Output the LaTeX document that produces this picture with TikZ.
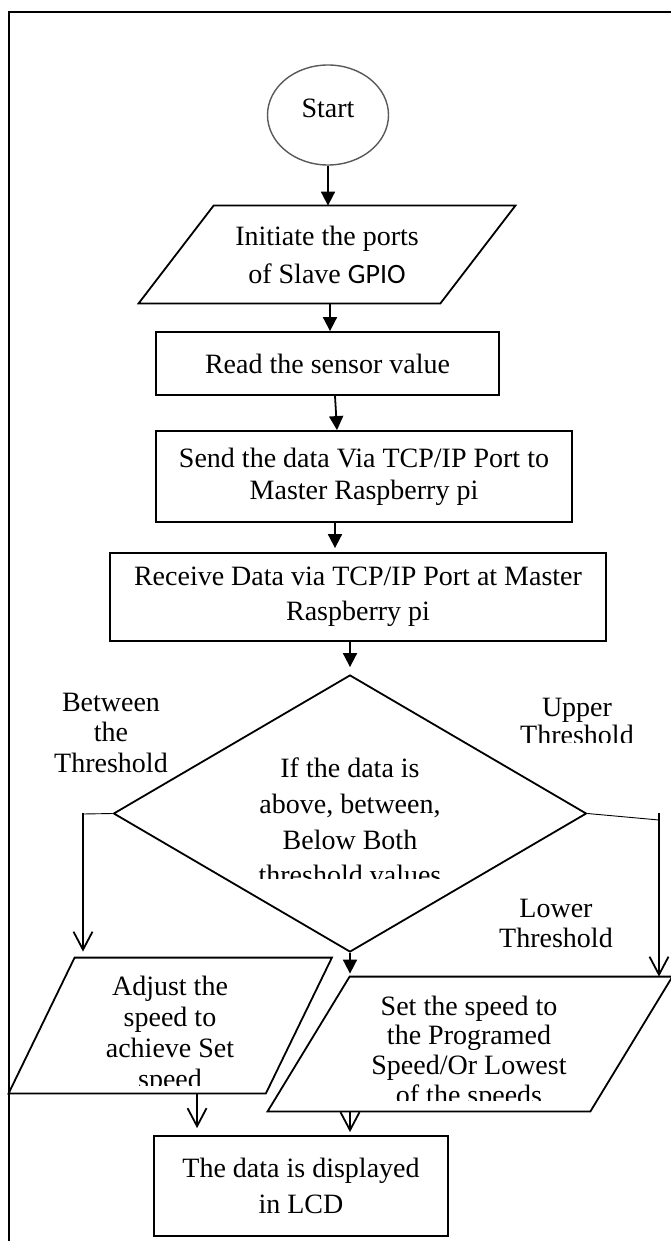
\documentclass[tikz,border=0pt]{standalone}
\usepackage{fontspec}
\setmainfont{Liberation Serif}
\newfontfamily\gpiofont{Carlito}
\usetikzlibrary{shapes.geometric,arrows.meta,calc}
\definecolor{circgray}{HTML}{595959}
\newcommand{\paraoutline}[2]{\draw[boxline] ([xshift=#2]#1.north west) -- ([xshift=#2]#1.north east) -- ([xshift=-#2]#1.south east) -- ([xshift=-#2]#1.south west) -- cycle;}
\begin{document}
\begin{tikzpicture}[x=0.5pt,y=-0.5pt,
  boxline/.style={line width=0.9pt, line join=miter},
  procbox/.style={rectangle, draw, line width=0.9pt, inner sep=0pt, align=center},
  holder/.style={rectangle, inner sep=0pt, align=center},
  txt/.style={font=\fontsize{14pt}{#1}\selectfont, align=center, inner sep=0pt},
  mainarrow/.style={line width=0.9pt, -{Triangle[width=7pt,length=7pt]}},
  openarrow/.style={line width=0.9pt, -{Straight Barb[width=9.5pt,length=9pt]}},
  thinline/.style={line width=0.45pt},
]
\useasboundingbox (0,0) rectangle (670,1241);
% frame
\draw[line width=1.1pt] (672,12) -- (9,12) -- (9,1243);

% start
\node[ellipse, draw=circgray, line width=0.7pt, minimum width=60.5pt, minimum height=50pt, inner sep=0pt] (start) at (328,115) {};
\node[txt=17pt] (starttext) at (328,108) {Start};

% initiate
\node[holder, txt=19pt, minimum width=150.5pt, minimum height=48.5pt] (p1) at (327,254.5) {Initiate the ports\\of Slave {\gpiofont GPIO}};
\paraoutline{p1}{18.75pt}

% read
\node[procbox, txt=17pt, draw, minimum width=171.5pt, minimum height=31.5pt] (read) at (327.5,363.5) {Read the sensor value};

% send
\node[procbox, txt=16pt, draw, minimum width=208pt, minimum height=45.5pt] (send) at (364,476.5) {Send the data Via TCP/IP Port to\\Master Raspberry pi};

% receive
\node[procbox, txt=17.5pt, draw, minimum width=248pt, minimum height=44pt] (recv) at (358,597) {Receive Data via TCP/IP Port at Master\\Raspberry pi};

% decision
\node[diamond, draw, line width=0.9pt, minimum width=236.5pt, minimum height=138.5pt, inner sep=0pt, aspect=1.7] (dia) at (350,813.5) {};
\begin{scope}
\clip (200,740) rectangle (500,878);
\node[txt=17.8pt] (diatext) at (350,821.5) {If the data is\\above, between,\\Below Both\\threshold values};
\end{scope}

% branch labels
\node[txt=15.25pt] (between) at (111,732.5) {Between\\the\\Threshold};
\begin{scope}
\clip (500,680) rectangle (660,742);
\node[txt=14pt] (upper) at (577,721) {Upper\\Threshold};
\end{scope}
\node[txt=15pt] (lower) at (556,923) {Lower\\Threshold};

% adjust
\node[holder, minimum width=128.25pt, minimum height=67.5pt] (adj) at (170.25,1025.5) {};
\paraoutline{adj}{16.5pt}
\begin{scope}
\clip (20,950) rectangle (330,1085);
\node[txt=15.5pt] (adjtext) at (170,1035) {Adjust the\\speed to\\achieve Set\\speed};
\end{scope}

% set speed
\node[holder, minimum width=161pt, minimum height=67pt] (set) at (470,1044) {};
\paraoutline{set}{20.5pt}
\begin{scope}
\clip (280,980) rectangle (670,1100);
\node[txt=14.8pt] (settext) at (469,1053) {Set the speed to\\the Programed\\Speed/Or Lowest\\of the speeds};
\end{scope}

% LCD
\node[procbox, txt=18pt, draw, minimum width=147pt, minimum height=50pt] (lcd) at (301,1186) {The data is displayed\\in LCD};

% main connectors
\draw[mainarrow] (start.south) -- (start.south |- p1.north);
\draw[mainarrow] ([xshift=1.5pt]p1.south) -- ([xshift=1.5pt]p1.south |- read.north);
\draw[mainarrow] ([xshift=3.75pt]read.south) -- ([xshift=-13.5pt]send.north);
\draw[mainarrow, shorten >=2pt] ([xshift=-14.5pt]send.south) -- ([xshift=-14.5pt]send.south |- recv.north);
\draw[mainarrow, shorten >=3.5pt] (dia.north |- recv.south) -- (dia.north);
\draw[mainarrow, shorten >=1.5pt] (dia.south) -- (dia.south |- set.north);

% branches
\coordinate (lb) at (83,814);
\coordinate (rb) at (659,820);
\draw[thinline] (dia.west) -- (lb);
\draw[openarrow, shorten >=3pt] ([yshift=0.5pt]lb) -- (lb |- adj.north);
\draw[thinline] (dia.east) -- (rb);
\draw[openarrow] ([yshift=3.5pt]rb) -- (rb |- set.north);

% to LCD
\draw[openarrow, shorten >=3.5pt] ([xshift=13.4pt]adj.south) -- ([xshift=13.4pt]adj.south |- lcd.north);
\draw[openarrow, shorten >=1.5pt] (dia.south |- set.south) -- (dia.south |- lcd.north);
\end{tikzpicture}
\end{document}
